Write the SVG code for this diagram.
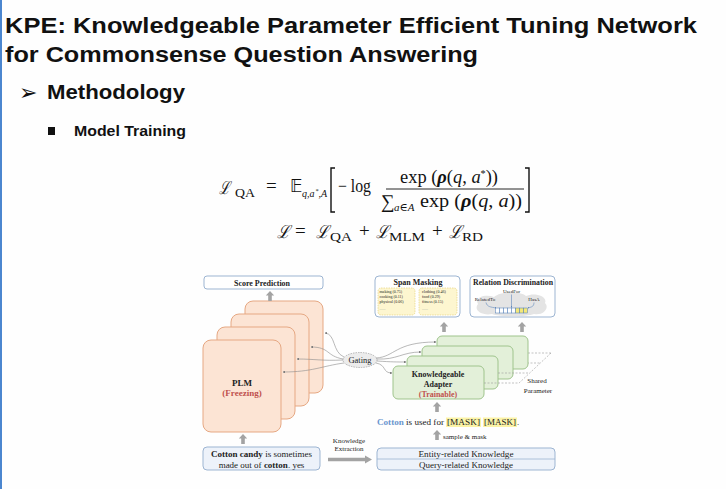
<svg xmlns="http://www.w3.org/2000/svg" width="726" height="489" viewBox="0 0 726 489">
<defs>
<style>
.title{font-family:"Liberation Sans",Arial,sans-serif;font-weight:bold;fill:#111}
.math{font-family:"Liberation Serif","DejaVu Serif",serif;fill:#111}
.it{font-style:italic}
.cal{font-family:"DejaVu Serif",serif;font-style:italic}
.ser{font-family:"Liberation Serif","DejaVu Serif",serif;fill:#222}
.b{font-weight:bold}
.plm{fill:#fce4d4;stroke:#e6a883;stroke-width:1}
.ad{fill:#e3f0d9;stroke:#9fc48c;stroke-width:1}
.box{fill:#fff;stroke:#9db5d2;stroke-width:1}
.bbox{fill:#edf2fa;stroke:#9db5d2;stroke-width:1}
.conn{fill:none;stroke:#8a8a8a;stroke-width:0.6}
.dash{fill:none;stroke:#9a9a9a;stroke-width:0.6;stroke-dasharray:2,1.5}
.ybox{fill:#fdf6d0;stroke:#e3cd6c;stroke-width:0.6;stroke-dasharray:1.5,1}
.red{fill:#c0504d}
</style>
<marker id="ah" viewBox="0 0 6 6" refX="5" refY="3" markerWidth="4" markerHeight="4" orient="auto"><path d="M0,0 L6,3 L0,6 Z" fill="#777"/></marker>
<marker id="ahb" viewBox="0 0 6 6" refX="5" refY="3" markerWidth="3" markerHeight="3" orient="auto"><path d="M0,0 L6,3 L0,6 Z" fill="#4a78b5"/></marker>
<path id="up" d="M0,0 L4.2,4.5 L1.8,4.5 L1.8,10 L-1.8,10 L-1.8,4.5 L-4.2,4.5 Z" fill="#a3a3a3"/>
</defs>
<rect x="0" y="0" width="726" height="489" fill="#fefefe"/>
<rect x="0" y="0" width="2" height="489" fill="#4b86cf"/>

<g id="heading">
<text class="title" x="5" y="33" font-size="22" textLength="692" lengthAdjust="spacingAndGlyphs">KPE: Knowledgeable Parameter Efficient Tuning Network</text>
<text class="title" x="5" y="62" font-size="22" textLength="473" lengthAdjust="spacingAndGlyphs">for Commonsense Question Answering</text>
<text x="19" y="100" font-family="DejaVu Sans,sans-serif" font-size="22" fill="#111">➢</text>
<text class="title" x="47" y="99" font-size="20" textLength="138" lengthAdjust="spacingAndGlyphs">Methodology</text>
<rect x="48" y="127" width="7" height="8" fill="#111"/>
<text class="title" x="74" y="136" font-size="14" textLength="112" lengthAdjust="spacingAndGlyphs">Model Training</text>
</g>

<g id="formula" class="math">
<text x="219" y="194" font-size="18" class="cal" textLength="11" lengthAdjust="spacingAndGlyphs">ℒ</text>
<text x="235" y="197" font-size="13" textLength="20" lengthAdjust="spacingAndGlyphs">QA</text>
<text x="266" y="192" font-size="19">=</text>
<text x="290" y="192" font-size="17" font-family="DejaVu Sans,sans-serif">𝔼</text>
<text x="302" y="197" font-size="10" class="it">q,a</text>
<text x="315.5" y="193" font-size="6.5">*</text>
<text x="318.5" y="197" font-size="10" class="it">,A</text>
<path d="M335,168 L331,168 L331,212 L335,212 M525,168 L529,168 L529,212 L525,212" fill="none" stroke="#111" stroke-width="1.4"/>
<text x="338" y="192" font-size="18" textLength="33" lengthAdjust="spacingAndGlyphs">− log</text>
<text x="400" y="183" font-size="18" textLength="98" lengthAdjust="spacingAndGlyphs">exp (<tspan font-weight="bold" font-style="italic">ρ</tspan>(<tspan class="it">q</tspan>, <tspan class="it">a</tspan><tspan font-size="10" dy="-6">*</tspan><tspan dy="6">))</tspan></text>
<line x1="386" y1="189" x2="524" y2="189" stroke="#111" stroke-width="0.9"/>
<text x="381" y="208" font-size="19">∑</text>
<text x="394" y="211" font-size="11" class="it">a<tspan font-style="normal">∈</tspan>A</text>
<text x="420" y="207" font-size="18" textLength="102" lengthAdjust="spacingAndGlyphs">exp (<tspan font-weight="bold" font-style="italic">ρ</tspan>(<tspan class="it">q</tspan>, <tspan class="it">a</tspan>))</text>
<text x="277" y="238" font-size="18" class="cal" textLength="13" lengthAdjust="spacingAndGlyphs">ℒ</text>
<text x="295" y="237" font-size="19">=</text>
<text x="316" y="238" font-size="18" class="cal" textLength="13" lengthAdjust="spacingAndGlyphs">ℒ</text>
<text x="330" y="241" font-size="13" textLength="22" lengthAdjust="spacingAndGlyphs">QA</text>
<text x="359" y="237" font-size="19">+</text>
<text x="376" y="238" font-size="18" class="cal" textLength="13" lengthAdjust="spacingAndGlyphs">ℒ</text>
<text x="389" y="241" font-size="13" textLength="36" lengthAdjust="spacingAndGlyphs">MLM</text>
<text x="432" y="237" font-size="19">+</text>
<text x="449" y="238" font-size="18" class="cal" textLength="13" lengthAdjust="spacingAndGlyphs">ℒ</text>
<text x="462" y="241" font-size="13" textLength="21" lengthAdjust="spacingAndGlyphs">RD</text>
</g>

<g id="score-prediction">
<rect x="204" y="276" width="119" height="13" rx="3" class="box"/>
<text class="ser b" x="262" y="286" font-size="8" text-anchor="middle" textLength="56" lengthAdjust="spacingAndGlyphs">Score Prediction</text>
</g>

<g id="plm">
<rect x="245" y="301" width="78" height="92" rx="8" class="plm"/>
<rect x="231" y="314" width="78" height="92" rx="8" class="plm"/>
<rect x="217" y="327" width="78" height="92" rx="8" class="plm"/>
<rect x="203" y="340" width="78" height="92" rx="8" class="plm"/>
<text class="ser b" x="242" y="386" font-size="9" text-anchor="middle">PLM</text>
<text class="ser b red" x="242" y="396" font-size="9" text-anchor="middle">(Freezing)</text>
</g>

<g id="adapter">
<line x1="528" y1="353" x2="551" y2="353" class="dash"/>
<line x1="513" y1="363" x2="540" y2="363" class="dash"/>
<rect x="437" y="336" width="91" height="33" rx="5" class="ad"/>
<rect x="422" y="346" width="91" height="33" rx="5" class="ad"/>
<rect x="407" y="356" width="91" height="33" rx="5" class="ad"/>
<line x1="498" y1="373" x2="529" y2="373" class="dash"/>
<rect x="393" y="366" width="91" height="33" rx="5" class="ad"/>
<line x1="484" y1="383" x2="519" y2="383" class="dash"/>
<line x1="551" y1="353" x2="518" y2="384" class="dash"/>
<text class="ser b" x="438" y="377" font-size="8" text-anchor="middle">Knowledgeable</text>
<text class="ser b" x="438" y="387" font-size="8" text-anchor="middle">Adapter</text>
<text class="ser b red" x="438" y="397" font-size="8" text-anchor="middle">(Trainable)</text>
<text class="ser" x="537" y="383" font-size="7" fill="#555" text-anchor="middle">Shared</text>
<text class="ser" x="538" y="393" font-size="7" fill="#555" text-anchor="middle">Parameter</text>
</g>

<g id="gating">
<ellipse cx="360" cy="360" rx="17" ry="7.5" fill="#ececec" stroke="#999" stroke-width="0.7" stroke-dasharray="1.5,1"/>
<text class="ser" x="360" y="363" font-size="8.5" text-anchor="middle">Gating</text>
</g>

<g id="span-masking">
<rect x="375" y="276" width="85" height="41" rx="4" class="box"/>
<text class="ser b" x="418" y="285" font-size="8" text-anchor="middle" textLength="49" lengthAdjust="spacingAndGlyphs">Span Masking</text>
<rect x="378" y="288" width="37" height="27" rx="3" class="ybox"/>
<rect x="419" y="288" width="38" height="27" rx="3" class="ybox"/>
<g class="ser" font-size="4">
<text x="379.5" y="293">making (0.75)</text>
<text x="379.5" y="298">cooking (0.11)</text>
<text x="379.5" y="303">physical (0.06)</text>
<text x="379.5" y="310" fill="#999">......</text>
<text x="422" y="293">clothing (0.46)</text>
<text x="422" y="298">food (0.29)</text>
<text x="422" y="303">fitness (0.15)</text>
<text x="422" y="310" fill="#999">......</text>
</g>
</g>

<g id="relation-discrimination">
<rect x="470" y="276" width="85" height="41" rx="4" class="box"/>
<text class="ser b" x="513" y="285" font-size="7.5" text-anchor="middle" textLength="80" lengthAdjust="spacingAndGlyphs">Relation Discrimination</text>
<path d="M478,304 C474,297 486,294 494,297 C500,291 520,291 526,296 C534,292 548,296 545,303 C550,308 543,316 534,314 C526,317 500,317 492,314 C482,316 473,310 478,304 Z" fill="#e4e4e4"/>
<text class="ser" x="511.5" y="293" font-size="5" text-anchor="middle">UsedFor</text>
<text class="ser" x="485" y="301" font-size="5" text-anchor="middle">RelatedTo</text>
<text class="ser" x="534" y="301" font-size="5" text-anchor="middle">HasA</text>
<path d="M486,302.5 C487,307 491,307 496,308" fill="none" stroke="#4a78b5" stroke-width="0.5" marker-end="url(#ahb)"/>
<path d="M511.5,294.5 L511.5,307.5" fill="none" stroke="#4a78b5" stroke-width="0.5" marker-end="url(#ahb)"/>
<path d="M534,302.5 C534,307 531,307 528,308" fill="none" stroke="#4a78b5" stroke-width="0.5" marker-end="url(#ahb)"/>
<g stroke="#4a78b5" stroke-width="0.5">
<rect x="495.5" y="308" width="4" height="5" fill="#fff"/>
<rect x="499.5" y="308" width="4" height="5" fill="#fff"/>
<rect x="503.5" y="308" width="4" height="5" fill="#fff"/>
<rect x="507.5" y="308" width="4" height="5" fill="#fff"/>
<rect x="511.5" y="308" width="4" height="5" fill="#fff"/>
<rect x="515.5" y="308" width="4" height="5" fill="#f4e87a"/>
<rect x="519.5" y="308" width="4" height="5" fill="#f4e87a"/>
<rect x="523.5" y="308" width="4" height="5" fill="#f4e87a"/>
</g>
</g>

<g id="input-sentence">
<rect x="203" y="447" width="117" height="23" rx="4" class="bbox"/>
<text class="ser" x="261.5" y="457" font-size="9" text-anchor="middle" textLength="101" lengthAdjust="spacingAndGlyphs"><tspan font-weight="bold">Cotton candy</tspan> is sometimes</text>
<text class="ser" x="261.5" y="467.5" font-size="9" text-anchor="middle">made out of <tspan font-weight="bold">cotton</tspan>.  yes</text>
</g>

<g id="knowledge">
<rect x="377" y="448" width="178" height="22" rx="4" class="bbox"/>
<line x1="377" y1="459" x2="555" y2="459" stroke="#9db5d2" stroke-width="0.8"/>
<text class="ser" x="466" y="457" font-size="9" text-anchor="middle" textLength="95" lengthAdjust="spacingAndGlyphs">Entity-related Knowledge</text>
<text class="ser" x="466" y="468" font-size="9" text-anchor="middle" textLength="94" lengthAdjust="spacingAndGlyphs">Query-related Knowledge</text>
</g>

<g id="masked-sentence">
<rect x="446" y="417.5" width="35" height="9.5" fill="#fbf3a6"/>
<rect x="483" y="417.5" width="34" height="9.5" fill="#fbf3a6"/>
<text class="ser" x="377" y="425" font-size="8.5" textLength="67" lengthAdjust="spacingAndGlyphs"><tspan font-weight="bold" fill="#6a96cf">Cotton</tspan> is used for</text>
<text class="ser" x="447" y="425" font-size="8.5" textLength="33" lengthAdjust="spacingAndGlyphs">[MASK]</text>
<text class="ser" x="484" y="425" font-size="8.5" textLength="32" lengthAdjust="spacingAndGlyphs">[MASK]</text>
<text class="ser" x="517" y="425" font-size="8.5">.</text>
</g>

<g id="connectors">
<use href="#up" x="270" y="291"/>
<use href="#up" x="243" y="434"/>
<use href="#up" x="437" y="402"/>
<use href="#up" x="437" y="430"/>
<use href="#up" x="444" y="322"/>
<use href="#up" x="522" y="322"/>
<text class="ser" x="443" y="439" font-size="7" fill="#555">sample &amp; mask</text>
<text class="ser" x="349" y="443" font-size="7" fill="#555" text-anchor="middle">Knowledge</text>
<text class="ser" x="349" y="451" font-size="7" fill="#555" text-anchor="middle">Extraction</text>
<path d="M328,457.7 L365,457.7 L365,455.5 L372,459.5 L365,463.5 L365,461.3 L328,461.3 Z" fill="#a3a3a3"/>
<path class="conn" d="M344,357 C332,352 336,334 325,333" marker-end="url(#ah)"/>
<path class="conn" d="M343,359 C326,356 330,347 311,347" marker-end="url(#ah)"/>
<path class="conn" d="M343,360 C322,361 315,359 297,359" marker-end="url(#ah)"/>
<path class="conn" d="M344,363 C322,366 312,372 283,372" marker-end="url(#ah)"/>
<path class="conn" d="M376,358 C395,357 395,342 436,342" marker-end="url(#ah)"/>
<path class="conn" d="M377,359 C397,360 402,352 421,352" marker-end="url(#ah)"/>
<path class="conn" d="M377,361 C392,362 397,362 406,362" marker-end="url(#ah)"/>
<path class="conn" d="M376,363 C387,365 382,373 392,373" marker-end="url(#ah)"/>
</g>
</svg>
